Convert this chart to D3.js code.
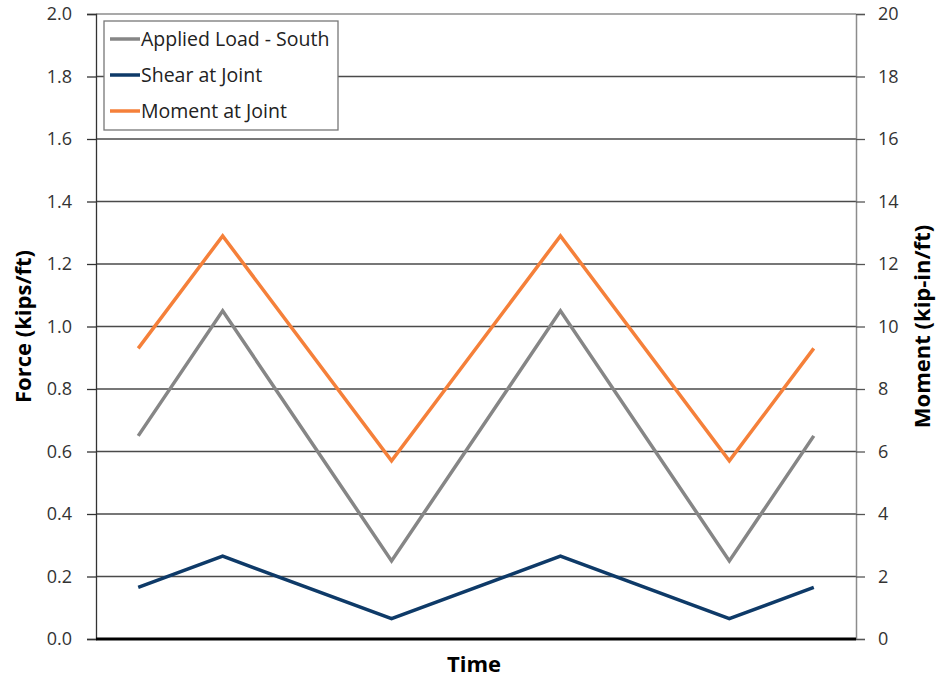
<!DOCTYPE html>
<html>
<head>
<meta charset="utf-8">
<script src="https://cdn.jsdelivr.net/npm/d3@7"></script>
<style>
body { margin: 0; background: #fff; }
text { font-family: "Open Sans", "Noto Sans", sans-serif; }
</style>
</head>
<body>
<div id="chart"></div>
<script>
// data
var time = [0, 1, 3, 5, 7, 8];
var appliedLoad = [0.65, 1.05, 0.25, 1.05, 0.25, 0.65];
var shear = [0.165, 0.265, 0.065, 0.265, 0.065, 0.165];
var moment = [9.3, 12.9, 5.7, 12.9, 5.7, 9.3];
var forceTicks = [0, 0.2, 0.4, 0.6, 0.8, 1.0, 1.2, 1.4, 1.6, 1.8, 2.0];
var momentTicks = [0, 2, 4, 6, 8, 10, 12, 14, 16, 18, 20];

var W = 941, H = 679;
var margin = {top: 14, right: 85, bottom: 40, left: 96};
var width = W - margin.left - margin.right,
    height = H - margin.top - margin.bottom;

var svg = d3.select("#chart").append("svg")
    .attr("width", W)
    .attr("height", H);

var g = svg.append("g")
    .attr("transform", "translate(" + margin.left + "," + margin.top + ")");

var x = d3.scaleLinear().domain([-0.5, 8.5]).range([0, width]);
var yL = d3.scaleLinear().domain([0, 2]).range([height, 0]);
var yR = d3.scaleLinear().domain([0, 20]).range([height, 0]);

// gridlines
g.append("g")
    .selectAll("line")
    .data(forceTicks.slice(1))
    .enter()
    .append("line")
    .attr("x1", 0)
    .attr("x2", width)
    .attr("y1", function(d) { return yL(d); })
    .attr("y2", function(d) { return yL(d); })
    .attr("stroke", function(d) { return d == 2 ? "#8c8c8c" : "#4a4a4a"; })
    .attr("stroke-width", 1.3);

// left axis
var leftAxis = g.append("g")
    .call(d3.axisLeft(yL).tickValues(forceTicks).tickFormat(d3.format(".1f")).tickSize(9).tickPadding(15));
leftAxis.select(".domain").attr("stroke", "#333").attr("stroke-width", 1.3);
leftAxis.selectAll(".tick line").attr("stroke", "#333").attr("stroke-width", 1.3);
leftAxis.selectAll("text").attr("font-size", 18).attr("fill", "#333")
    .style("font-family", "'Open Sans', sans-serif");

// right axis
var rightAxis = g.append("g")
    .attr("transform", "translate(" + width + ",0)")
    .call(d3.axisRight(yR).tickValues(momentTicks).tickSize(9).tickPadding(13));
rightAxis.select(".domain").attr("stroke", "#8c8c8c").attr("stroke-width", 1.5);
rightAxis.selectAll(".tick line").attr("stroke", "#555").attr("stroke-width", 1.3);
rightAxis.selectAll("text").attr("font-size", 18).attr("fill", "#333")
    .style("font-family", "'Open Sans', sans-serif");

// bottom axis line
g.append("line")
    .attr("x1", 0).attr("x2", width)
    .attr("y1", height).attr("y2", height)
    .attr("stroke", "#000").attr("stroke-width", 3);

// series
var series = [
    {name: "Applied Load - South", values: appliedLoad, y: yL, color: "#868686"},
    {name: "Shear at Joint", values: shear, y: yL, color: "#0e3a68"},
    {name: "Moment at Joint", values: moment, y: yR, color: "#f5803a"}
];

series.forEach(function(s) {
    var line = d3.line()
        .x(function(d, i) { return x(time[i]); })
        .y(function(d) { return s.y(d); });
    g.append("path")
        .datum(s.values)
        .attr("fill", "none")
        .attr("stroke", s.color)
        .attr("stroke-width", 3.5)
        .attr("stroke-linejoin", "miter")
        .attr("d", line);
});

// legend
var legend = svg.append("g").attr("transform", "translate(104,21)");
legend.append("rect")
    .attr("width", 234).attr("height", 109)
    .attr("fill", "#fff").attr("stroke", "#777").attr("stroke-width", 1.3);
series.forEach(function(s, i) {
    var ly = 18 + i * 36;
    legend.append("line")
        .attr("x1", 6).attr("x2", 36)
        .attr("y1", ly).attr("y2", ly)
        .attr("stroke", s.color).attr("stroke-width", 3.5);
    legend.append("text")
        .attr("x", 37).attr("y", ly + 7)
        .attr("font-size", 19.5).attr("fill", "#222")
        .text(s.name);
});

// axis titles
svg.append("text")
    .attr("transform", "translate(31," + (margin.top + height / 2) + ") rotate(-90)")
    .attr("text-anchor", "middle")
    .attr("font-size", 22).attr("font-weight", "bold")
    .text("Force (kips/ft)");

svg.append("text")
    .attr("transform", "translate(930," + (margin.top + height / 2) + ") rotate(-90)")
    .attr("text-anchor", "middle")
    .attr("font-size", 22).attr("font-weight", "bold")
    .text("Moment (kip-in/ft)");

svg.append("text")
    .attr("x", 474)
    .attr("y", 672)
    .attr("text-anchor", "middle")
    .attr("font-size", 22).attr("font-weight", "bold")
    .text("Time");
</script>
</body>
</html>
